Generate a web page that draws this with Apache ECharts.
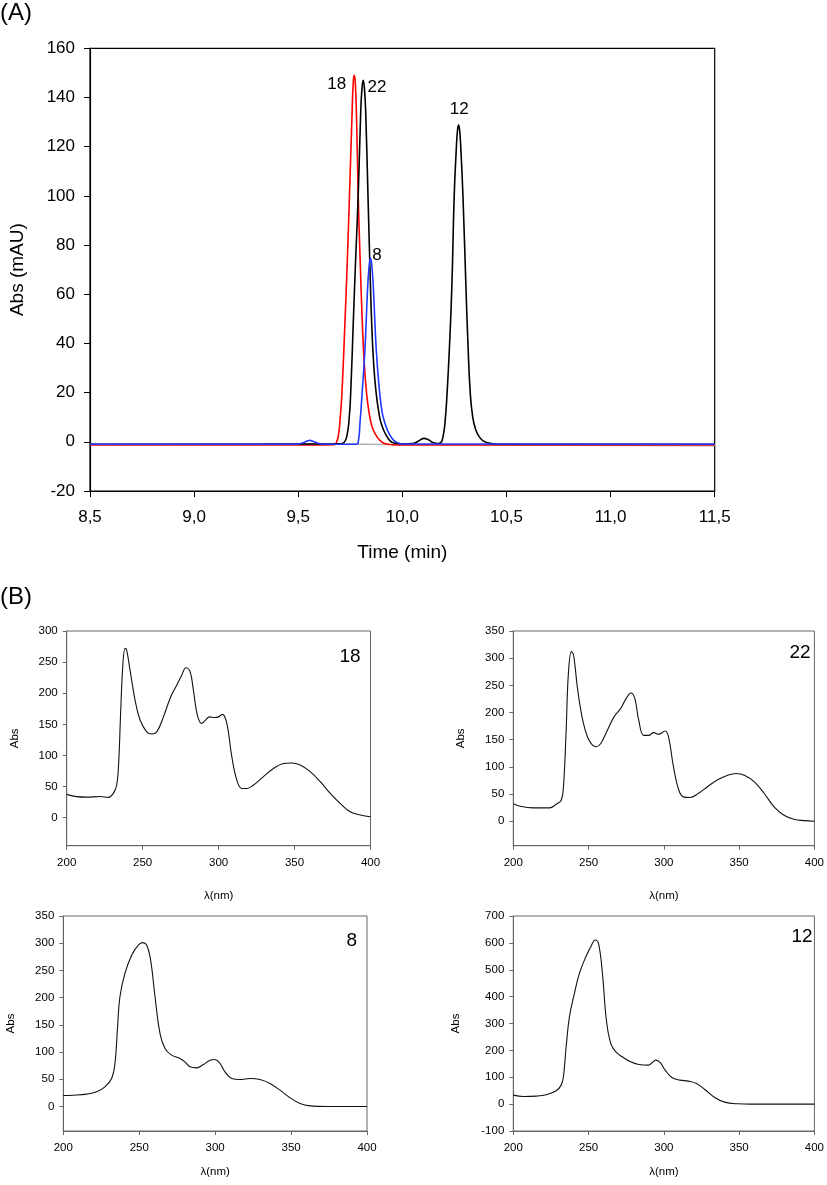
<!DOCTYPE html>
<html>
<head>
<meta charset="utf-8">
<script src="https://cdn.jsdelivr.net/npm/echarts@6/dist/echarts.min.js"></script>
<style>
  html, body { margin: 0; padding: 0; background: #fff; }
  #chart { width: 827px; height: 1185px; }
</style>
</head>
<body>
<div id="chart"></div>
<script>
// ---------------- DATA ----------------
// (A) chromatograms: [time (min), Abs (mAU)]
const traceGray = [[9.33,-0.8],[9.6,-0.9],[10.0,-1.1],[10.5,-1.3],[11.0,-1.5],[11.5,-1.6]];
const traceRed18 = [
  [8.50,-1.3],[9.30,-1.3],[9.60,-1.3],[9.67,-1.2],[9.685,0],[9.695,4],[9.70,8],[9.71,20],[9.725,50],
  [9.735,72],[9.746,100],[9.758,132],[9.764,146],[9.769,149],[9.774,146],[9.780,132],[9.788,100],
  [9.797,75],[9.807,50],[9.817,32],[9.828,20],[9.840,12],[9.855,6],[9.875,2.5],[9.90,0],[9.93,-1.0],
  [9.97,-1.3],[11.5,-1.3]
];
const traceBlack22_12 = [
  [8.50,-1.0],[9.60,-0.9],[9.70,-0.8],[9.72,-0.3],[9.735,3],[9.745,10],[9.752,20],[9.765,50],[9.776,75],
  [9.788,100],[9.800,134],[9.806,143.5],[9.812,147],[9.818,143.5],[9.824,134],[9.835,100],[9.843,75],
  [9.852,50],[9.862,32],[9.874,20],[9.887,12],[9.90,7],[9.92,3],[9.94,0.5],[9.96,-0.5],[9.99,-0.8],
  [10.05,-0.7],[10.08,0.4],[10.104,1.4],[10.125,0.8],[10.15,-0.4],[10.17,-0.7],[10.183,-0.5],
  [10.195,2],[10.205,8],[10.215,20],[10.227,40],[10.238,64],[10.249,100],[10.259,119],[10.265,126.8],
  [10.270,128.8],[10.275,126.8],[10.281,119],[10.291,100],[10.305,64],[10.315,40],[10.326,20],
  [10.338,10],[10.352,5],[10.37,2],[10.39,0.3],[10.42,-0.6],[10.47,-1.0],[11.5,-1.0]
];
const traceBlue8 = [
  [8.50,-1.0],[9.48,-1.0],[9.52,-0.5],[9.545,0.4],[9.555,0.6],[9.57,0.2],[9.60,-0.7],[9.63,-1.0],
  [9.78,-1.0],[9.79,1],[9.796,7],[9.807,20],[9.820,37],[9.833,62],[9.841,72],[9.847,74.6],[9.853,72],
  [9.861,62],[9.875,37],[9.891,20],[9.903,12],[9.915,8],[9.938,3],[9.96,0.5],[9.98,-0.5],[10.0,-0.9],
  [11.5,-1.0]
];
const xTickLabelsA = ['8,5','9,0','9,5','10,0','10,5','11,0','11,5'];
const peakLabelsA = ['18','22','8','12'];

// (B) UV spectra: [wavelength (nm), Abs]
const spectrum18 = [
  [200,37.5],[206.6,33.8],[213,33],[222,34],[227.4,32.7],[230.7,39],[232.9,52.5],[234.2,87],[235.5,168],
  [236.9,243],[238.4,272],[239.5,269],[241.7,237],[245,189],[248.3,157],[252.7,138],[256,134.5],
  [259.3,138],[263.7,162],[268.1,192],[272.4,213],[275.7,229],[278.5,241],[281.2,235],[283.4,205],
  [286,165],[288.9,151.6],[291.1,156],[294,162],[297.7,161],[299.9,162],[302.5,166],[305.4,151.6],
  [308.7,98],[312,60.5],[315.3,47],[318.6,47],[323,52.5],[329.5,66],[336.1,79],[342.7,87],[348.2,88],
  [353.7,84.6],[360.3,74],[366.9,57.9],[373.5,39],[380,23],[386.6,9.6],[393.4,4.3],[400,1.6]
];
const spectrum22 = [
  [200,32],[204.4,27.6],[213.2,24.6],[224.1,24.6],[228.5,31.3],[231.8,38.7],[233.3,63],[235.1,167],
  [236.6,272],[238.6,312],[240,306],[242.8,241],[246.1,186],[249.3,155],[252.6,140],[255.3,137],
  [258.1,143],[262.5,167.6],[266.9,192],[271.3,207.5],[275,226],[278.1,236],[280.7,226],[283.3,186],
  [286.6,158],[289.9,158],[293.2,163],[296.5,160],[300.9,166],[303.1,155],[306.4,100],[309.6,60],
  [312.9,44.8],[317.3,43.6],[322.8,51],[329.4,64.5],[336,76.8],[342.5,84.7],[348,87.8],[353.5,84.7],
  [360.1,72.5],[366.7,51],[373.2,26.4],[379.8,11],[386.4,3.7],[393,1.2],[400,0]
];
const spectrum8 = [
  [200,20.2],[206.6,20.8],[215.4,22.7],[222,27],[227.4,36],[231.8,51.5],[234,79],[235.6,140],
  [237.3,201.7],[240.6,244.6],[245,278],[249.4,296.7],[252.3,301],[254.9,296.7],[257.5,269],
  [260.4,201.7],[263.7,134],[267,106.7],[271.3,94.4],[276.8,88.3],[280.1,82],[283.4,73],[287.8,71],
  [292.2,77],[296.6,85],[299.9,86.4],[303.2,79],[306.5,63.7],[310.9,51.5],[316.4,49.6],[323,51.5],
  [329.5,49.6],[336.1,42.3],[342.7,30],[349.3,16],[355.9,5.5],[362.5,1.2],[373.4,0],[400,0]
];
const spectrum12 = [
  [200,33.5],[206.6,28.5],[215.4,29.8],[221.9,34.8],[228.5,49.6],[231.8,70.7],[233.3,101.8],[235.1,213.5],
  [237.3,325],[240.6,412],[243.9,486.5],[248.2,548.6],[251.5,585.8],[254.4,610.6],[256.6,598],
  [259.2,486.5],[261.8,312.8],[264.7,226],[268,195],[272.4,176],[277.9,157.6],[283.3,147.7],
  [289.9,145],[292.1,154],[294.7,163.8],[297.6,154],[300.9,126.6],[305.3,99.3],[310.7,89.4],
  [316.2,85.6],[321.7,77],[327.2,54.6],[333.8,24.8],[340.4,7.4],[349.1,1.2],[357.9,0],[400,0]
];
const yTicks300 = [0,50,100,150,200,250,300];
const yTicks350 = [0,50,100,150,200,250,300,350];
const panelLabelsB = ['18','22','8','12'];

// ---------------- CHART ----------------
const FONT = 'Liberation Sans, Arial, Helvetica, sans-serif';
const chart = echarts.init(document.getElementById('chart'), null, { renderer: 'canvas' });

const gridsB = [
  { left: 66.7, top: 631, width: 303.8, height: 214.7 },
  { left: 513.3, top: 631, width: 304, height: 214.7 },
  { left: 63.3, top: 916, width: 303.7, height: 215 },
  { left: 513.3, top: 916, width: 304, height: 215 }
];
const spectraB = [spectrum18, spectrum22, spectrum8, spectrum12];
const yCfgB = [
  { min: -45, max: 300, ticks: yTicks300, gap: 46, xGap: 44 },
  { min: -45, max: 350, ticks: yTicks350, gap: 46, xGap: 44 },
  { min: -45, max: 350, ticks: yTicks350, gap: 46, xGap: 35 },
  { min: -100, max: 700, interval: 100, gap: 51, xGap: 35 }
];

const grids = [{ left: 81.3, top: 48.3, width: 633.4, height: 442.7, show: true, borderColor: '#000', borderWidth: 1.2, backgroundColor: 'transparent' }];
gridsB.forEach(g => grids.push(Object.assign({ show: true, borderColor: '#666', borderWidth: 1, backgroundColor: 'transparent' }, g)));

const xAxes = [{
  gridIndex: 0, type: 'value', min: 8.5, max: 11.5, interval: 0.5,
  name: 'Time (min)', nameLocation: 'middle', nameGap: 52,
  nameTextStyle: { fontFamily: FONT, fontSize: 19, color: '#000' },
  axisLine: { show: true, onZero: false, lineStyle: { color: '#000', width: 1.2 } },
  axisTick: { show: true, inside: false, length: 6, lineStyle: { color: '#000' } },
  axisLabel: { fontFamily: FONT, fontSize: 17, color: '#000', margin: 18,
    formatter: v => xTickLabelsA[Math.round((v - 8.5) / 0.5)] },
  splitLine: { show: false }
}];
const yAxes = [{
  gridIndex: 0, type: 'value', min: -20, max: 160, interval: 20,
  name: 'Abs (mAU)', nameLocation: 'middle', nameGap: 63, nameRotate: 90,
  nameTextStyle: { fontFamily: FONT, fontSize: 19, color: '#000' },
  axisLine: { show: true, onZero: false, lineStyle: { color: '#000', width: 1.2 } },
  axisTick: { show: true, inside: false, length: 6, lineStyle: { color: '#000' } },
  axisLabel: { fontFamily: FONT, fontSize: 17, color: '#000', margin: 15 },
  splitLine: { show: false }
}];

gridsB.forEach((g, i) => {
  const c = yCfgB[i];
  xAxes.push({
    gridIndex: i + 1, type: 'value', min: 200, max: 400, interval: 50,
    name: 'λ(nm)', nameLocation: 'middle', nameGap: c.xGap,
    nameTextStyle: { fontFamily: FONT, fontSize: 11.5, color: '#000' },
    axisLine: { show: true, onZero: false, lineStyle: { color: '#666', width: 1 } },
    axisTick: { show: true, inside: false, length: 4, lineStyle: { color: '#666' } },
    axisLabel: { fontFamily: FONT, fontSize: 11.5, color: '#000', margin: 11 },
    splitLine: { show: false }
  });
  const ya = {
    gridIndex: i + 1, type: 'value', min: c.min, max: c.max,
    name: 'Abs', nameLocation: 'middle', nameGap: c.gap, nameRotate: 90,
    nameTextStyle: { fontFamily: FONT, fontSize: 11.5, color: '#000' },
    axisLine: { show: true, onZero: false, lineStyle: { color: '#666', width: 1 } },
    axisTick: { show: true, inside: false, length: 4, lineStyle: { color: '#666' } },
    axisLabel: { fontFamily: FONT, fontSize: 11.5, color: '#000', margin: 9 },
    splitLine: { show: false }
  };
  if (c.interval) { ya.interval = c.interval; }
  else {
    ya.axisLabel.customValues = c.ticks;
    ya.axisTick.customValues = c.ticks;
  }
  yAxes.push(ya);
});

const lineBase = { type: 'line', showSymbol: false, symbol: 'none', silent: true, animation: false };
const series = [
  Object.assign({}, lineBase, { name: 'gray', xAxisIndex: 0, yAxisIndex: 0, data: traceGray, lineStyle: { color: '#b0b0b0', width: 1.5 } }),
  Object.assign({}, lineBase, { name: '18', xAxisIndex: 0, yAxisIndex: 0, data: traceRed18, smooth: 0.5, lineStyle: { color: '#ff0000', width: 1.6 } }),
  Object.assign({}, lineBase, { name: '22/12', xAxisIndex: 0, yAxisIndex: 0, data: traceBlack22_12, smooth: 0.5, lineStyle: { color: '#000', width: 1.6 } }),
  Object.assign({}, lineBase, { name: '8', xAxisIndex: 0, yAxisIndex: 0, data: traceBlue8, smooth: 0.5, lineStyle: { color: '#2038ff', width: 1.6 } })
];
spectraB.forEach((d, i) => {
  series.push(Object.assign({}, lineBase, { name: 'spec' + panelLabelsB[i], xAxisIndex: i + 1, yAxisIndex: i + 1, data: d, smooth: 0.4, lineStyle: { color: '#111', width: 1.1 } }));
});

function txt(s, x, y, size) {
  return { type: 'text', silent: true, style: { text: s, x: x, y: y, fill: '#000', font: size + 'px ' + FONT, textAlign: 'center', textVerticalAlign: 'middle' } };
}
const graphics = [
  txt('(A)', 16, 13, 24),
  txt('(B)', 16, 597, 24),
  txt(peakLabelsA[0], 336.7, 84.3, 17),
  txt(peakLabelsA[1], 377, 87.3, 17),
  txt(peakLabelsA[2], 377, 255.7, 17),
  txt(peakLabelsA[3], 459.3, 109, 17),
  txt(panelLabelsB[0], 350, 657, 19),
  txt(panelLabelsB[1], 800, 653, 19),
  txt(panelLabelsB[2], 351.7, 941, 19),
  txt(panelLabelsB[3], 802, 937, 19)
];

chart.setOption({
  backgroundColor: '#fff',
  animation: false,
  grid: grids,
  xAxis: xAxes,
  yAxis: yAxes,
  series: series,
  graphic: graphics
});
</script>
</body>
</html>
